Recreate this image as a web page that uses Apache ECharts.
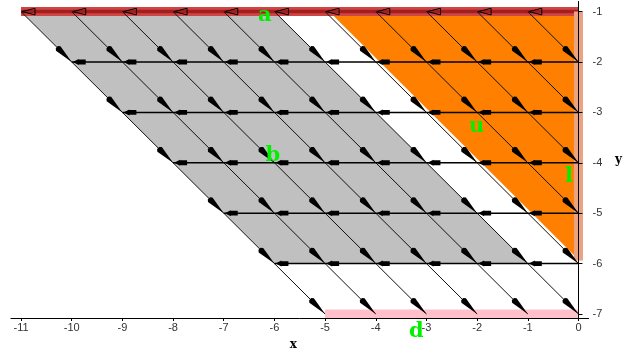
<!DOCTYPE html>
<html><head><meta charset="utf-8">
<script src="https://cdn.jsdelivr.net/npm/echarts@6/dist/echarts.min.js"></script>
<style>html,body{margin:0;padding:0;background:#fff}#c{width:628px;height:356px}</style>
</head><body><div id="c"></div>
<script>
// ---- data ----
const xTicks = [-11,-10,-9,-8,-7,-6,-5,-4,-3,-2,-1,0];
const yTicks = [-1,-2,-3,-4,-5,-6,-7];
const grayRegion = [[-11,-1],[-6,-1],[-1,-6],[-6,-6]];
const orangeRegion = [[-4.92,-1],[0,-1],[0,-5.92]];
const redBand = [[-11,-1],[0,-1]];
const salmonBand = [[0,-1],[0,-5.94]];
const pinkBand = [[-5,-7],[0,-7]];
const rowLines = [[-10,-2,0,-2],[-9,-3,0,-3],[-8,-4,0,-4],[-7,-5,0,-5],[-6,-6,0,-6]];
const diagLines = [[-11,-1,-5,-7],[-10,-1,-4,-7],[-9,-1,-3,-7],[-8,-1,-2,-7],[-7,-1,-1,-7],
  [-6,-1,0,-7],[-5,-1,0,-6],[-4,-1,0,-5],[-3,-1,0,-4],[-2,-1,0,-3],[-1,-1,0,-2]];
const topArrowX = [-11,-10,-9,-8,-7,-6,-5,-4,-3,-2,-1];
const letterText = ['a','b','u','l','d'];
const letterX = [-6.19,-6.03,-2.01,-0.185,-3.2];
const letterY = [-1.084,-3.85,-3.29,-4.27,-7.34];

// ---- arrow anchor points derived from the line data ----
const diagArrows = [];
diagLines.forEach(([x0,y0,x1]) => { for (let k = 1; k <= x1 - x0; k++) diagArrows.push([x0 + k, y0 - k, 1, -1]); });
const rowArrows = [];
rowLines.forEach(([x0,y,x1]) => { for (let x = x0; x < x1; x++) rowArrows.push([x, y, -1, 0]); });
const topArrows = topArrowX.map(x => [x, -1, -1, 0]);
const letters = letterText.map((t, i) => [letterX[i], letterY[i], i]);

const diagShape = [[0,0],[-19,-3.2],[-21,-1.5],[-21,1.5],[-19,3.2]];
const rowShape = [[-1,0],[-7,-3],[-7,-2.4],[-14,-2.4],[-14,2.4],[-7,2.4],[-7,3]];
const topShape = [[-1,0],[-14,-3.3],[-14,3.3]];

function polygonSeries(points, color, z) {
  return { type: 'custom', z, silent: true, data: [[points[0][0], points[0][1]]],
    renderItem: (p, api) => ({ type: 'polygon', shape: { points: points.map(pt => api.coord(pt)) }, style: { fill: color } }) };
}
function bandSeries(seg, color, width, z) {
  return { type: 'custom', z, silent: true, data: [[seg[0][0], seg[0][1]]],
    renderItem: (p, api) => { const a = api.coord(seg[0]), b = api.coord(seg[1]);
      return { type: 'line', shape: { x1: a[0], y1: a[1], x2: b[0], y2: b[1] }, style: { stroke: color, lineWidth: width } }; } };
}
function lineSeries(data, color, width, z) {
  return { type: 'custom', z, silent: true, data, encode: { x: [0, 2], y: [1, 3] },
    renderItem: (p, api) => { const a = api.coord([api.value(0), api.value(1)]), b = api.coord([api.value(2), api.value(3)]);
      return { type: 'line', shape: { x1: a[0], y1: a[1], x2: b[0], y2: b[1] }, style: { stroke: color, lineWidth: width } }; } };
}
function arrowSeries(data, shape, style, z) {
  return { type: 'custom', z, silent: true, data, encode: { x: 0, y: 1 },
    renderItem: (p, api) => {
      const x = api.value(0), y = api.value(1), dx = api.value(2), dy = api.value(3);
      const tip = api.coord([x, y]), back = api.coord([x - dx, y - dy]);
      let ux = tip[0] - back[0], uy = tip[1] - back[1];
      const L = Math.hypot(ux, uy); ux /= L; uy /= L;
      const nx = -uy, ny = ux;
      const pts = shape.map(([a, b]) => [tip[0] + a * ux + b * nx, tip[1] + a * uy + b * ny]);
      return { type: 'polygon', shape: { points: pts }, style };
    } };
}

const chart = echarts.init(document.getElementById('c'), null, { renderer: 'canvas' });
chart.setOption({
  animation: false,
  backgroundColor: '#fff',
  grid: { left: 10.9, right: 39.4, top: 1.5, bottom: 34.5, containLabel: false },
  xAxis: {
    type: 'value', min: -11.2, max: 0.2, z: 10,
    name: 'x', nameLocation: 'middle', nameGap: 21,
    nameTextStyle: { fontFamily: 'DejaVu Serif', fontWeight: 'bold', fontSize: 12, color: '#000', padding: [0, 13, 0, 0] },
    axisLine: { onZero: false, lineStyle: { color: '#000', width: 1 } },
    axisTick: { show: true, length: 3, customValues: xTicks, lineStyle: { color: '#000' } },
    axisLabel: { customValues: xTicks, margin: 4, fontSize: 11, fontFamily: 'Liberation Sans', color: '#333' },
    splitLine: { show: false }
  },
  yAxis: {
    type: 'value', min: -7.08, max: -0.8, position: 'right', z: 10,
    name: 'y', nameLocation: 'middle', nameRotate: 0, nameGap: 26.5,
    nameTextStyle: { fontFamily: 'DejaVu Serif', fontWeight: 'bold', fontSize: 12, color: '#000' },
    axisLine: { onZero: true, lineStyle: { color: '#000', width: 1 } },
    axisTick: { show: true, length: 4, customValues: yTicks, lineStyle: { color: '#000' } },
    axisLabel: { customValues: yTicks, margin: 4, fontSize: 11, fontFamily: 'Liberation Sans', color: '#333' },
    splitLine: { show: false }
  },
  series: [
    polygonSeries(grayRegion, '#c0c0c0', 1),
    polygonSeries(orangeRegion, '#ff8000', 2),
    bandSeries(redBand, '#d04444', 9, 3),
    bandSeries(redBand, '#a21f1f', 3.5, 3),
    bandSeries(salmonBand, '#eaa282', 9, 3),
    bandSeries(pinkBand, '#ffc0cb', 9, 3),
    lineSeries(diagLines, '#111', 1, 4),
    lineSeries(rowLines, '#000', 1.5, 4),
    arrowSeries(diagArrows, diagShape, { fill: '#000' }, 5),
    arrowSeries(rowArrows, rowShape, { fill: '#000' }, 5),
    arrowSeries(topArrows, topShape, { fill: 'none', stroke: '#000', lineWidth: 1 }, 5),
    { type: 'custom', z: 6, silent: true, data: letters, encode: { x: 0, y: 1 },
      renderItem: (p, api) => { const c = api.coord([api.value(0), api.value(1)]);
        return { type: 'text', x: c[0], y: c[1],
          style: { text: letterText[api.value(2)], fill: '#00f000', font: 'bold 21px "DejaVu Serif"', align: 'center', verticalAlign: 'middle' } }; } }
  ]
});
</script></body></html>
